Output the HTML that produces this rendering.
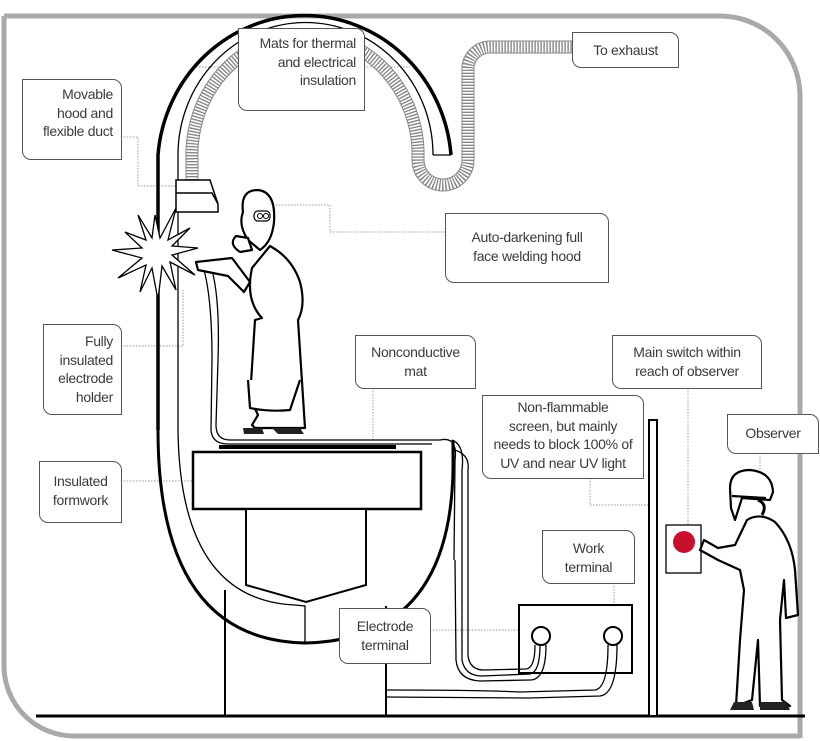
<!DOCTYPE html>
<html><head><meta charset="utf-8"><style>
html,body{margin:0;padding:0;background:#fff;}
#w{position:relative;width:820px;height:741px;overflow:hidden;font-family:"Liberation Sans",sans-serif;}
svg{position:absolute;left:0;top:0;}
.l{position:absolute;box-sizing:border-box;border:1.5px solid #555;border-radius:0 9px 0 9px;background:#fff;color:#3a3a3a;font-size:14px;line-height:18.5px;letter-spacing:-0.3px;padding:5px 8px;text-align:right;}
.c{text-align:center;}
</style></head><body><div id="w">
<svg width="820" height="741" viewBox="0 0 820 741">
<path d="M4,16 H720 A80,80 0 0 1 800,96 V738 M4,16 V666 A70,70 0 0 0 74,736 H800" fill="none" stroke="#a9a9a9" stroke-width="5"/>
<g fill="none" stroke="#999" stroke-width="1" stroke-dasharray="1.5 1.5">
<path d="M193,67 H238 M364,67 H410"/>
<path d="M121,137 H138 V186 H190"/>
<path d="M258,205 H330 V232 H445"/>
<path d="M121,346 H183 V290"/>
<path d="M121,481 H237"/>
<path d="M373,388 V440"/>
<path d="M688,388 V525"/>
<path d="M590,478 V505 H648"/>
<path d="M760,453 V478"/>
<path d="M614,583 V630"/>
<path d="M430,630 H532"/>
</g>
<path d="M192,185 V160 A113,120 0 0 1 418,150 V160 A25,25 0 0 0 468,160 V70 A22,22 0 0 1 490,47 H572" fill="none" stroke="#888" stroke-width="13"/>
<path d="M192,185 V160 A113,120 0 0 1 418,150 V160 A25,25 0 0 0 468,160 V70 A22,22 0 0 1 490,47 H572" fill="none" stroke="#fff" stroke-width="11" stroke-dasharray="1.6 1.4"/>
<path d="M158,430 V155 A147,152 0 0 1 451,155" fill="none" stroke="#000" stroke-width="3.5"/>
<path d="M178,430 V155 A127,132 0 0 1 433,155" fill="none" stroke="#000" stroke-width="1.3"/>
<path d="M433,155 H451" stroke="#000" stroke-width="1.3"/>
<path d="M158,430 Q158,640 305,643 Q450,640 453,470 V440" fill="none" stroke="#000" stroke-width="3"/>
<path d="M178,430 Q180,600 295,605 L305,606 V643" fill="none" stroke="#000" stroke-width="1.3"/>
<path d="M176,212 V193 H212 L218,204 V212 Z M176,193 L176,180 H210 L218,204" fill="#fff" stroke="#000" stroke-width="1.5"/>
<line x1="219" y1="447" x2="396" y2="447" stroke="#000" stroke-width="4"/>
<rect x="193" y="452" width="228" height="57" fill="#fff" stroke="#000" stroke-width="2.5"/>
<path d="M246,510 V585 L306,602 L366,585 V510" fill="#fff" stroke="#000" stroke-width="2"/>
<path d="M225,590 V716 M386,606 V716" stroke="#000" stroke-width="2"/>
<line x1="36" y1="716" x2="805" y2="716" stroke="#000" stroke-width="3"/>
<rect x="649" y="420" width="8" height="296" fill="#fff" stroke="#000" stroke-width="2"/>
<rect x="666" y="525" width="35" height="48" fill="#fff" stroke="#000" stroke-width="1.3"/>
<circle cx="684" cy="542" r="11" fill="#c8102e"/>
<rect x="519" y="605" width="113" height="68" fill="#fff" stroke="#000" stroke-width="2"/>
<circle cx="541" cy="636" r="9" fill="#fff" stroke="#000" stroke-width="2"/>
<circle cx="613" cy="636" r="9" fill="#fff" stroke="#000" stroke-width="2"/>
<g fill="none" stroke="#000" stroke-width="1.3">
<path d="M212,270 Q220,300 218,360 L216,425 Q216,440 230,440 L440,440 Q458,436 455,460 L454,560"/>
<path d="M204,270 Q212,300 212,360 L211,430 Q212,444 228,444 L432,444"/>
<path d="M452,440 Q465,445 462,470 L462,660 Q465,676 482,676 L530,674 Q540,672 540,645"/>
<path d="M455,450 Q470,455 468,470 L468,656 Q470,670 484,670 L526,669 Q535,668 535,645 M546,645 Q546,680 530,680 L480,681 Q458,680 456,660 L455,560"/>
<path d="M386,690 Q480,690 520,692 L595,690 Q608,688 608,645 M386,697 L530,698 L600,696 Q617,694 617,645"/>
</g>
<polygon fill="#fff" stroke="#000" stroke-width="1.3" points="155,215 160,238 176,208 168,240 190,228 172,246 198,248 172,255 195,275 170,262 176,290 162,266 158,300 152,268 140,292 146,265 118,278 142,258 112,250 142,248 125,232 146,240 138,215 152,238"/>
<g fill="#fff" stroke="#000" stroke-width="2.2" stroke-linejoin="round">
<path d="M252,268 Q245,300 262,318 L255,320 L250,398 L258,415 L252,425 L255,428 L305,428 L298,320 Q306,305 300,282 Q292,258 270,246 Z"/>
<path d="M248,380 L250,408 Q270,412 290,410 L300,380"/>
<path d="M243,212 Q240,190 258,190 Q276,192 274,222 Q272,242 260,250 L248,240 Q238,225 243,212 Z"/>
<path d="M196,262 L232,258 L250,282 L244,292 L228,276 L198,270 Z"/>
<path d="M236,236 Q228,244 240,252 L252,250 L248,238 Z"/>
</g>
<rect x="254" y="211" width="16" height="10" rx="4" fill="#fff" stroke="#000" stroke-width="1.2"/>
<circle cx="260" cy="216" r="2.5" fill="none" stroke="#000"/><circle cx="266" cy="216" r="2.5" fill="none" stroke="#000"/>
<path d="M243,428 L262,428 L264,434 L244,434 Z M272,428 L300,428 L304,434 L278,434 Z" fill="#222"/>
<g fill="#fff" stroke="#000" stroke-width="2.2" stroke-linejoin="round">
<path d="M747,520 Q760,512 775,522 Q792,540 795,570 L798,615 L786,618 L784,580 L780,620 L782,700 L790,706 L760,706 L758,640 L752,700 L736,706 L740,640 L744,590 L740,570 L718,560 L700,550 L704,540 L718,548 L735,545 Z"/>
<path d="M730,488 Q730,470 750,470 Q772,472 773,492 L770,500 L742,498 L735,520 L731,508 Z"/>
<path d="M732,496 L766,498"/>
</g>
<path d="M734,702 L752,702 L754,710 L730,710 Z M760,702 L786,702 L790,710 L760,710 Z" fill="#222"/>
<path d="M758,500 Q768,504 762,515" fill="none" stroke="#000" stroke-width="3"/>
</svg>
<div class="l" style="left:238px;top:28px;width:127px;height:83px;">Mats for thermal<br>and electrical<br>insulation</div>
<div class="l" style="left:572px;top:32px;width:107px;height:36px;padding-right:20px;line-height:24px;">To exhaust</div>
<div class="l" style="left:22px;top:79px;width:100px;height:81px;">Movable<br>hood and<br>flexible duct</div>
<div class="l c" style="left:445px;top:213px;width:164px;height:70px;padding-top:14px;">Auto-darkening full<br>face welding hood</div>
<div class="l" style="left:43px;top:324px;width:79px;height:91px;padding-top:7px;">Fully<br>insulated<br>electrode<br>holder</div>
<div class="l c" style="left:355px;top:335px;width:121px;height:54px;padding-top:7px;">Nonconductive<br>mat</div>
<div class="l c" style="left:612px;top:335px;width:150px;height:54px;padding-top:7px;">Main switch within<br>reach of observer</div>
<div class="l c" style="left:482px;top:395px;width:162px;height:84px;padding:2px 2px;">Non-flammable<br>screen, but mainly<br>needs to block 100% of<br>UV and near UV light</div>
<div class="l c" style="left:727px;top:414px;width:92px;height:40px;padding-top:9px;">Observer</div>
<div class="l c" style="left:39px;top:461px;width:83px;height:62px;padding-top:10px;">Insulated<br>formwork</div>
<div class="l c" style="left:542px;top:530px;width:93px;height:54px;padding-top:8px;">Work<br>terminal</div>
<div class="l c" style="left:339px;top:608px;width:92px;height:56px;padding-top:8px;">Electrode<br>terminal</div>
</div></body></html>
